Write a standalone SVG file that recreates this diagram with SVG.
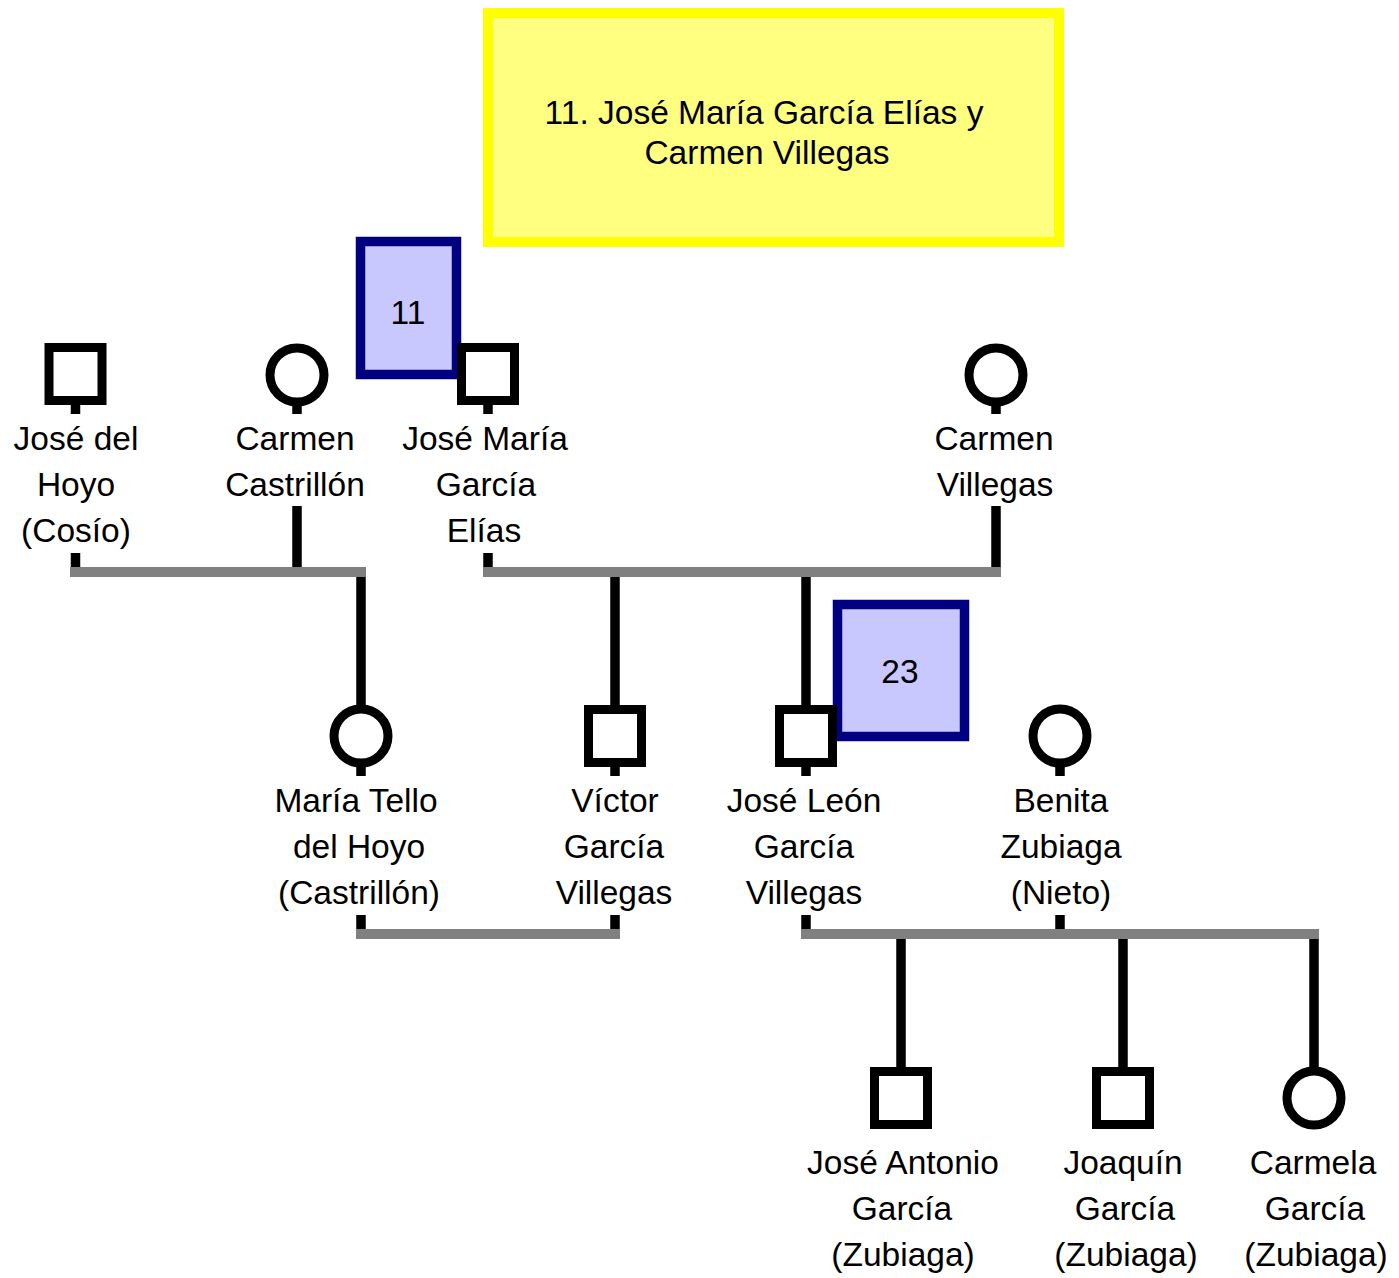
<svg xmlns="http://www.w3.org/2000/svg" width="1399" height="1278" viewBox="0 0 1399 1278">
<style>
text{font-family:"Liberation Sans",Arial,sans-serif;font-size:33.5px;fill:#000;text-anchor:middle}
.sym{fill:#fff;stroke:#000;stroke-width:9}
.stub{stroke:#000;stroke-width:9.5;fill:none}
.marr{stroke:#808080;stroke-width:10;fill:none}
.tag{fill:#c8c8ff;stroke:#000080;stroke-width:9.5}
</style>
<rect width="1399" height="1278" fill="#fff"/>
<g id="title">
<rect x="488" y="13" width="571" height="229" fill="#ffff80" stroke="#ffff00" stroke-width="10"/>
<text x="764" y="124">11. José María García Elías y</text>
<text x="767" y="164">Carmen Villegas</text>
</g>
<g id="connectors">
<!-- stubs below symbols -->
<path class="stub" d="M75.5 405V414M297 406V414M488 405V414M996 406V414M361 767V776M615 767V776M806 767V776M1060 767V776"/>
<!-- stubs from labels to marriage lines -->
<path class="stub" d="M75.5 553V568M297 506V568M488 553V568M996 506V568M361 915V930M615 915V930M806 915V930M1060 915V930"/>
<!-- child lines -->
<path class="stub" d="M361 576V706M615 576V706M806 576V706M901 938V1068M1123 938V1068M1314 938V1068"/>
<!-- marriage lines -->
<path class="marr" d="M70 572H366M483 572H1001M356 934H620M801 934H1319"/>
</g>
<g id="tag11"><rect class="tag" x="360.5" y="241.5" width="96" height="133"/><text x="408" y="324">11</text></g>
<g id="tag23"><rect class="tag" x="837.5" y="604.5" width="127" height="132"/><text x="900" y="683">23</text></g>
<g id="jose-del-hoyo"><rect class="sym" x="49" y="347.5" width="53" height="53"/>
<text x="76" y="450">José del</text><text x="76" y="496">Hoyo</text><text x="76" y="542">(Cosío)</text></g>
<g id="carmen-castrillon"><circle class="sym" cx="297" cy="375" r="27"/>
<text x="295" y="450">Carmen</text><text x="295" y="496">Castrillón</text></g>
<g id="jose-maria"><rect class="sym" x="461.5" y="347.5" width="53" height="53"/>
<text x="485" y="450">José María</text><text x="486" y="496">García</text><text x="484" y="542">Elías</text></g>
<g id="carmen-villegas"><circle class="sym" cx="996" cy="375" r="27"/>
<text x="994" y="450">Carmen</text><text x="995" y="496">Villegas</text></g>
<g id="maria-tello"><circle class="sym" cx="361" cy="736" r="27"/>
<text x="356" y="812">María Tello</text><text x="359" y="858">del Hoyo</text><text x="359" y="904">(Castrillón)</text></g>
<g id="victor"><rect class="sym" x="588.5" y="709.5" width="53" height="53"/>
<text x="615" y="812">Víctor</text><text x="614" y="858">García</text><text x="614" y="904">Villegas</text></g>
<g id="jose-leon"><rect class="sym" x="779.5" y="709.5" width="53" height="53"/>
<text x="804" y="812">José León</text><text x="804" y="858">García</text><text x="804" y="904">Villegas</text></g>
<g id="benita"><circle class="sym" cx="1060" cy="736" r="27"/>
<text x="1061" y="812">Benita</text><text x="1061" y="858">Zubiaga</text><text x="1061" y="904">(Nieto)</text></g>
<g id="jose-antonio"><rect class="sym" x="874.5" y="1071.5" width="53" height="53"/>
<text x="903" y="1174">José Antonio</text><text x="902" y="1220">García</text><text x="903" y="1266">(Zubiaga)</text></g>
<g id="joaquin"><rect class="sym" x="1096.5" y="1071.5" width="53" height="53"/>
<text x="1123" y="1174">Joaquín</text><text x="1125" y="1220">García</text><text x="1126" y="1266">(Zubiaga)</text></g>
<g id="carmela"><circle class="sym" cx="1314" cy="1098" r="27"/>
<text x="1313" y="1174">Carmela</text><text x="1315" y="1220">García</text><text x="1316" y="1266">(Zubiaga)</text></g>
</svg>
